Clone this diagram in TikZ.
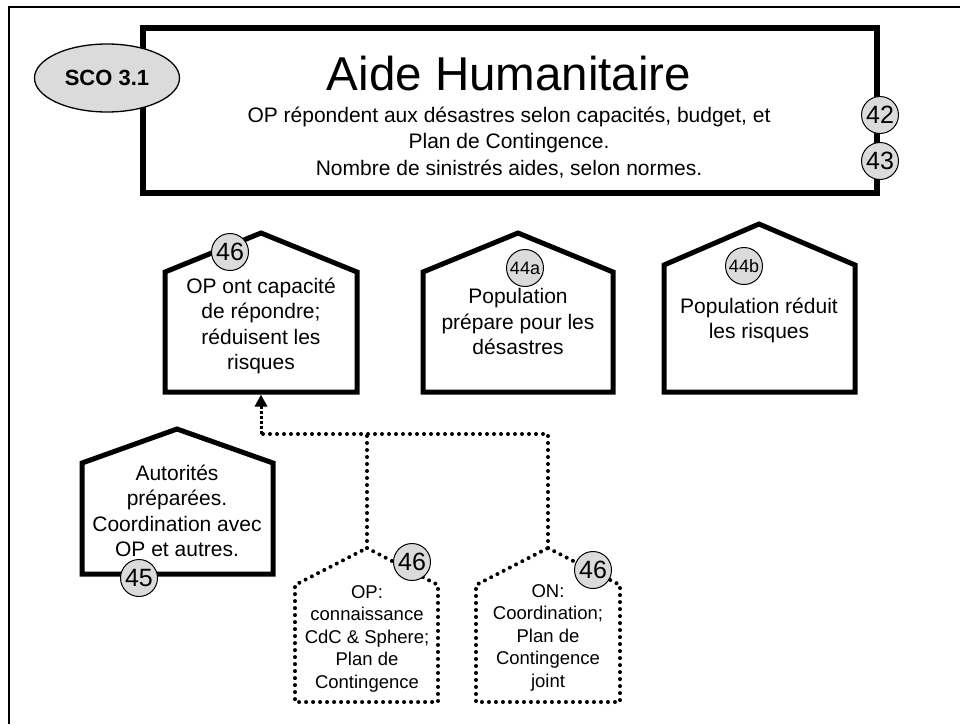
\documentclass[tikz,border=0pt]{standalone}
\usepackage{fontspec}
\setmainfont{Liberation Sans}
\usetikzlibrary{shapes.geometric,arrows.meta}
\definecolor{numgray}{gray}{0.86}

\begin{document}
\begin{tikzpicture}[x=1pt,y=-1pt,
  frameline/.style={line width=2pt},
  goalbox/.style={draw, line width=6.5pt, minimum width=734pt, minimum height=165pt, inner sep=0pt},
  house/.style={line width=5pt, line join=miter},
  dothouse/.style={line width=4pt, line cap=round, line join=round, dash pattern=on 0pt off 7pt},
  numcirc/.style={circle, draw, line width=1pt, fill=numgray, minimum size=37pt, inner sep=0pt,
                  font=\fontsize{25}{25}\selectfont},
  smallnum/.style={numcirc, font=\fontsize{18}{18}\selectfont},
  % multi-line texts are placed by the baseline of their last line
  bodytext/.style={align=center, inner sep=0pt, anchor=base, font=\fontsize{21}{25.5}\selectfont},
  smalltext/.style={align=center, inner sep=0pt, anchor=base, font=\fontsize{18.5}{22.5}\selectfont},
  dotconn/.style={line width=4pt, line cap=round, dash pattern=on 0pt off 7pt},
  arrowconn/.style={line width=3pt, dash pattern=on 3pt off 2pt, -{Triangle[width=12pt,length=12pt]}}
]
\useasboundingbox (0,0) rectangle (960,724);

% page frame
\draw[frameline] (960,7) -- (9,7) -- (9,724);

% goal box
\node[goalbox] (goal) at (510,110.5) {};
\node[anchor=base, inner sep=0pt, font=\fontsize{47.5}{47.5}\selectfont] (title) at (509,90) {Aide Humanitaire};
\node[bodytext, font=\fontsize{21}{26.5}\selectfont] (goaltext) at (509,175)
  {OP répondent aux désastres selon capacités, budget, et\\Plan de Contingence.\\Nombre de sinistrés aides, selon normes.};
\node[ellipse, draw, fill=numgray, line width=1.3pt, minimum width=145pt, minimum height=68pt,
      inner sep=0pt, font=\bfseries\fontsize{22}{22}\selectfont] (sco) at (107,78) {SCO 3.1};
\node[numcirc] (n42) at (880,115) {42};
\node[numcirc] (n43) at (880,161) {43};

% result houses
\draw[house] (165,392) -- (165,272) -- (261,233) -- (357,272) -- (357,392) -- cycle;
\coordinate (opbase) at (261,394.5);
\node[bodytext] (optext) at (261,369.5) {OP ont capacité\\de répondre;\\réduisent les\\risques};
\node[numcirc] (n46a) at (230,252) {46};

\draw[house] (423,392) -- (423,272) -- (518,233) -- (613,272) -- (613,392) -- cycle;
\node[bodytext] (poptext) at (518,354.5) {Population\\prépare pour les\\désastres};
\node[smallnum] (n44a) at (525,268) {44a};

\draw[house] (664,392) -- (664,265) -- (759,224) -- (855,265) -- (855,392) -- cycle;
\node[bodytext] (riskext) at (759,338.5) {Population réduit\\les risques};
\node[smallnum] (n44b) at (744,266) {44b};

\draw[house] (82,574) -- (82,463) -- (177,429) -- (273,463) -- (273,574) -- cycle;
\node[bodytext] (authtext) at (177,556.5) {Autorités\\préparées.\\Coordination avec\\OP et autres.};
\node[numcirc] (n45) at (139,578) {45};

% activity houses (dotted)
\coordinate (dh1top) at (367,548);
\coordinate (dh2top) at (548,548);
\draw[dothouse] (dh1top) -- (438,585) -- (438,702) -- (295,702) -- (295,585) -- cycle;
\node[smalltext] (optrain) at (367,688) {OP:\\connaissance\\CdC \& Sphere;\\Plan de\\Contingence};
\node[numcirc] (n46b) at (412,562) {46};

\draw[dothouse] (dh2top) -- (620,585) -- (620,702) -- (476,702) -- (476,585) -- cycle;
\node[smalltext] (oncoord) at (548,687) {ON:\\Coordination;\\Plan de\\Contingence\\joint};
\node[numcirc] (n46c) at (593,570) {46};

% connectors
\coordinate (bend) at (261,434);
\draw[dotconn] (dh2top) -- (dh2top |- bend) -- (bend);
\draw[dotconn] (dh1top) -- (dh1top |- bend);
\draw[arrowconn] (bend) -- (opbase);
\end{tikzpicture}
\end{document}
